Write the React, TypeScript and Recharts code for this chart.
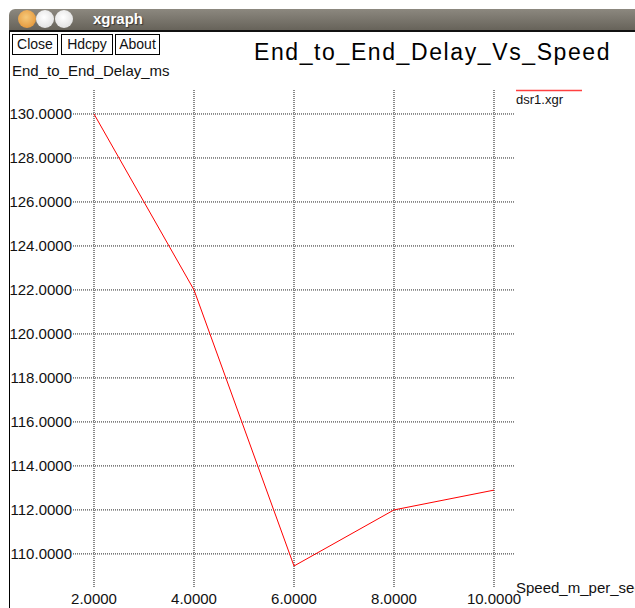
import { LineChart, Line, XAxis, YAxis, CartesianGrid } from "recharts";

const speeds = [2, 4, 6, 8, 10];
const delays = [130, 122, 109.45, 112, 112.9];
const xTicks = [2, 4, 6, 8, 10];
const yTicks = [110, 112, 114, 116, 118, 120, 122, 124, 126, 128, 130];

const data = speeds.map((s, i) => ({ speed: s, delay: delays[i] }));

const FONT = "'Liberation Sans', Arial, Helvetica, sans-serif";
const fmt = (v: number) => v.toFixed(4);

function Btn({ label, left, width }: { label: string; left: number; width: number }) {
  return (
    <div style={{
      position: "absolute", left, top: 34, width, height: 21,
      border: "1px solid #000", boxSizing: "border-box",
      font: `14px ${FONT}`, lineHeight: "19px", textAlign: "center", color: "#111",
    }}>{label}</div>
  );
}

function TitleBar() {
  const dot = (cx: number, bg: string) => (
    <div style={{
      position: "absolute", left: cx - 9, top: 1, width: 18, height: 18, borderRadius: 9,
      background: bg,
    }} />
  );
  return (
    <div style={{
      position: "absolute", left: 9, top: 9, width: 640, height: 23,
      background: "linear-gradient(#8c887f, #67635a)",
      borderTopLeftRadius: 6, borderBottom: "2px solid #111", boxSizing: "border-box",
    }}>
      {dot(18, "radial-gradient(circle at 45% 40%, #f6c97a, #e08a2a)")}
      {dot(36, "radial-gradient(circle at 45% 40%, #ffffff, #d8d8d8)")}
      {dot(55, "radial-gradient(circle at 45% 40%, #ffffff, #d8d8d8)")}
      <div style={{
        position: "absolute", left: 84, top: 1, color: "#fff",
        font: `bold 15px ${FONT}`, textShadow: "1px 1px 1px #333",
      }}>xgraph</div>
    </div>
  );
}

export default function App() {
  return (
    <div style={{ position: "absolute", left: 0, top: 0, width: 635, height: 608, overflow: "hidden", background: "#fff" }}>
      <TitleBar />
      <div style={{ position: "absolute", left: 9, top: 31, width: 1, height: 580, background: "#000" }} />
      <Btn label="Close" left={12} width={46} />
      <Btn label="Hdcpy" left={61} width={52} />
      <Btn label="About" left={115} width={45} />

      <div style={{ position: "absolute", left: 0, top: 0 }}>
        <LineChart width={635} height={608} data={data}
          margin={{ top: 90, right: 120, bottom: 0, left: 0 }}>
          <CartesianGrid vertical={false} horizontalValues={yTicks} stroke="#222" strokeDasharray="1 1" />
          <CartesianGrid horizontal={false} verticalValues={xTicks} stroke="#888" strokeWidth={2} strokeDasharray="1 1" />
          <XAxis
            dataKey="speed" type="number" domain={[1.58, 10.42]} ticks={xTicks}
            allowDataOverflow tickFormatter={fmt} height={20}
            axisLine={false} tickLine={false} tickSize={0} tickMargin={5}
            tick={{ fill: "#111", fontSize: 15, fontFamily: FONT }}
          />
          <YAxis
            dataKey="delay" type="number" domain={[108.45, 131.09]} ticks={yTicks}
            allowDataOverflow tickFormatter={fmt} width={73}
            axisLine={false} tickLine={false} tickSize={0} tickMargin={1}
            tick={{ fill: "#111", fontSize: 15, fontFamily: FONT }}
          />
          <Line type="linear" dataKey="delay" stroke="#ff0000" strokeWidth={1}
            dot={false} isAnimationActive={false} />
        </LineChart>
      </div>

      <svg width={635} height={608} style={{ position: "absolute", left: 0, top: 0, pointerEvents: "none" }}>
        <text x={254} y={60} fontSize={23} letterSpacing={1.6} fontFamily={FONT} fill="#000">
          End_to_End_Delay_Vs_Speed
        </text>
        <text x={12} y={76} fontSize={15} fontFamily={FONT} fill="#111">End_to_End_Delay_ms</text>
        <text x={516} y={593} fontSize={15} fontFamily={FONT} fill="#111">Speed_m_per_sec</text>
        <line x1={516} x2={582} y1={90.5} y2={90.5} stroke="#ff4040" strokeWidth={1.5} />
        <text x={516} y={104} fontSize={13} fontFamily={FONT} fill="#111">dsr1.xgr</text>
      </svg>
    </div>
  );
}
